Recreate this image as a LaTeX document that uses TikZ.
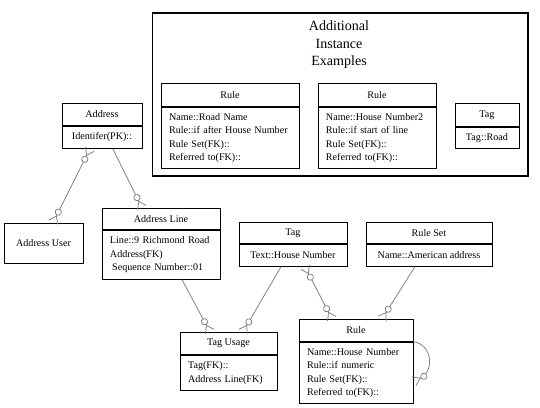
\documentclass[tikz,border=0pt]{standalone}
\usepackage{fontspec}
\setmainfont{Liberation Serif}
\usepackage{tikz}
\usetikzlibrary{positioning}
\usetikzlibrary{arrows.meta}

\begin{document}
\begin{tikzpicture}[
        font=\fontsize{9}{12}\selectfont,
        hdr/.style={draw, line width=0.8pt, minimum height=0.6875cm, inner sep=0pt, anchor=north},
        body/.style={draw, line width=0.8pt, inner xsep=0.25cm, inner ysep=0pt, align=left},
        link/.style={draw=gray, line width=0.7pt},
        zm/.style={-{Circle[open,fill=white,length=0.22cm] Straight Barb[reversed,length=0.22cm,width=0.3cm]}},
        mzm/.style={{Straight Barb[reversed,length=0.22cm,width=0.3cm] Circle[open,fill=white,length=0.22cm]}-{Circle[open,fill=white,length=0.22cm] Straight Barb[reversed,length=0.22cm,width=0.3cm]}}
    ]
        \useasboundingbox (0,0) rectangle (16.875,-12.75);

        % instance examples
        \draw[line width=0.9pt] (4.78,-0.406) rectangle (16.5,-5.5);
        \node[font=\fontsize{12.5}{15.5}\selectfont, align=center] (title) at (10.594,-1.4) {Additional\\Instance\\Examples};

        \node[hdr, minimum width=4.3125cm, minimum height=0.72cm] (ruleA) at (7.1875,-2.594) {Rule};
        \node[body, below=0pt of ruleA, text width=3.8125cm, minimum height=1.906cm] (ruleAB) {Name::Road Name\\Rule::if after House Number\\Rule Set(FK)::\\Referred to(FK)::};

        \node[hdr, minimum width=3.6875cm, minimum height=0.72cm] (ruleC) at (11.781,-2.594) {Rule};
        \node[body, below=0pt of ruleC, text width=3.1875cm, minimum height=1.906cm] (ruleCB) {Name::House Number2\\Rule::if start of line\\Rule Set(FK)::\\Referred to(FK)::};

        \node[hdr, minimum width=2cm, minimum height=0.72cm] (tagC) at (15.219,-3.219) {Tag};
        \node[body, below=0pt of tagC, minimum width=2cm, minimum height=0.656cm] (tagCB) {Tag::Road};

        % entities
        \node[hdr, minimum width=2.5cm] (addr) at (3.1875,-3.219) {Address};
        \node[body, below=0pt of addr, minimum width=2.5cm, minimum height=0.6875cm] (addrB) {Identifer(PK)::};

        \node[draw, line width=0.8pt, minimum width=2.47cm, minimum height=1.25cm] (auser) at (1.359,-7.594) {Address User};

        \node[hdr, minimum width=3.69cm, minimum height=0.656cm] (aline) at (5.031,-6.5) {Address Line};
        \node[body, below=0pt of aline, text width=3.19cm, minimum height=1.53cm] (alineB) {Line::9 Richmond Road\\Address(FK)\\\hspace{2pt}Sequence Number::01};

        \node[hdr, minimum width=3.375cm, minimum height=0.656cm] (tag) at (9.156,-6.9375) {Tag};
        \node[body, below=0pt of tag, minimum width=3.375cm, minimum height=0.6875cm] (tagB) {Text::House Number};

        \node[hdr, minimum width=3.94cm, minimum height=0.656cm] (rset) at (13.406,-6.9375) {Rule Set};
        \node[body, below=0pt of rset, minimum width=3.94cm, minimum height=0.6875cm] (rsetB) {Name::American address};

        \node[hdr, minimum width=3.03cm] (tusage) at (7.141,-10.375) {Tag Usage};
        \node[body, below=0pt of tusage, text width=2.53cm, minimum height=1.094cm] (tusageB) {Tag(FK)::\\Address Line(FK)};

        \node[hdr, minimum width=3.5625cm] (rule) at (11.125,-9.969) {Rule};
        \node[body, below=0pt of rule, text width=3.0625cm, minimum height=1.906cm] (ruleB) {Name::House Number\\Rule::if numeric\\Rule Set(FK)::\\Referred to(FK)::};

        % relations
        \draw[link, mzm] ([xshift=-0.375cm]addrB.south) -- ([xshift=0.3cm]auser.north);
        \draw[link, zm] ([xshift=0.34cm]addrB.south) -- ([xshift=-0.59cm]aline.north);
        \draw[link, zm] ([xshift=0.66cm]alineB.south) -- ([xshift=-0.58cm]tusage.north);
        \draw[link, zm] ([xshift=-0.375cm]tagB.south) -- ([xshift=0.45cm]tusage.north);
        \draw[link, mzm] ([xshift=0.375cm]tagB.south) -- ([xshift=-0.75cm]rule.north);
        \draw[link, zm] ([xshift=-0.44cm]rsetB.south) -- ([xshift=0.81cm]rule.north);
        \draw[link, zm] (rule.south east) .. controls +(0.55,-0.05) and +(0.7,0.35) .. ([yshift=-0.27cm]ruleB.east);
\end{tikzpicture}
\end{document}
